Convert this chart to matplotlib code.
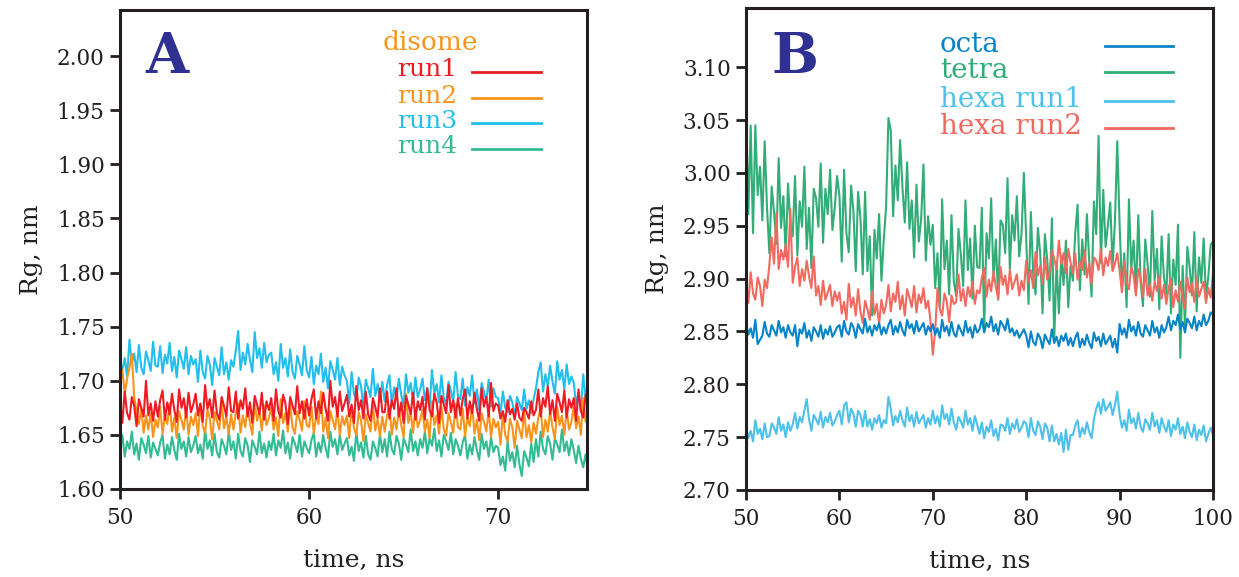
import numpy as np
import matplotlib
matplotlib.use("Agg")
import matplotlib.pyplot as plt

# ---------------- Data: Rg in pm (1 pm = 0.001 nm) ----------------
# Panel A: disome runs, time 50.000 .. 74.875 ns, step 0.125 ns
time_a_start, time_a_step = 50.0, 0.125
disome_run1_pm = [
    1682, 1661, 1690, 1670, 1664, 1685, 1677, 1658, 1683, 1675, 1667, 1700, 1668, 1679, 1663, 1681,
    1667, 1682, 1691, 1664, 1680, 1669, 1688, 1673, 1662, 1692, 1675, 1684, 1666, 1689, 1671, 1678,
    1688, 1668, 1679, 1662, 1696, 1674, 1683, 1666, 1691, 1670, 1664, 1685, 1677, 1667, 1694, 1672,
    1671, 1690, 1665, 1682, 1674, 1693, 1667, 1680, 1661, 1686, 1678, 1669, 1689, 1664, 1681, 1673,
    1684, 1663, 1692, 1672, 1666, 1687, 1679, 1660, 1685, 1677, 1669, 1695, 1670, 1681, 1665, 1683,
    1668, 1683, 1692, 1665, 1681, 1670, 1689, 1674, 1663, 1700, 1676, 1685, 1667, 1690, 1672, 1679,
    1687, 1667, 1678, 1661, 1695, 1673, 1682, 1665, 1690, 1669, 1663, 1684, 1676, 1666, 1693, 1671,
    1671, 1690, 1665, 1682, 1674, 1693, 1667, 1680, 1661, 1686, 1678, 1669, 1689, 1664, 1681, 1673,
    1685, 1664, 1693, 1673, 1667, 1688, 1680, 1661, 1686, 1678, 1670, 1696, 1671, 1682, 1666, 1684,
    1668, 1683, 1692, 1665, 1681, 1670, 1689, 1674, 1663, 1693, 1676, 1685, 1667, 1698, 1672, 1679,
    1677, 1665, 1672, 1662, 1682, 1669, 1674, 1664, 1679, 1666, 1663, 1675, 1671, 1665, 1681, 1668,
    1673, 1692, 1667, 1684, 1676, 1695, 1669, 1682, 1663, 1688, 1680, 1671, 1691, 1666, 1683, 1675,
    1684, 1663, 1692, 1672, 1666, 1687, 1679, 1660]
disome_run2_pm = [
    1695, 1710, 1688, 1702, 1712, 1725, 1685, 1672, 1660, 1675, 1652, 1668, 1655, 1670, 1648, 1664,
    1657, 1676, 1651, 1668, 1660, 1679, 1653, 1666, 1647, 1672, 1664, 1655, 1675, 1650, 1667, 1659,
    1670, 1649, 1678, 1658, 1652, 1673, 1665, 1646, 1671, 1663, 1655, 1681, 1656, 1667, 1651, 1669,
    1655, 1670, 1679, 1652, 1668, 1657, 1676, 1661, 1650, 1680, 1663, 1672, 1654, 1677, 1659, 1666,
    1675, 1655, 1666, 1649, 1683, 1661, 1670, 1653, 1678, 1657, 1651, 1672, 1664, 1654, 1681, 1659,
    1657, 1676, 1651, 1668, 1660, 1690, 1653, 1666, 1647, 1672, 1664, 1655, 1675, 1650, 1667, 1659,
    1668, 1647, 1676, 1656, 1650, 1671, 1663, 1644, 1669, 1661, 1653, 1679, 1654, 1665, 1649, 1667,
    1653, 1668, 1677, 1650, 1666, 1655, 1674, 1659, 1648, 1688, 1661, 1670, 1652, 1675, 1657, 1664,
    1673, 1653, 1664, 1647, 1681, 1659, 1668, 1651, 1676, 1655, 1649, 1670, 1662, 1652, 1679, 1657,
    1655, 1674, 1649, 1666, 1658, 1677, 1651, 1664, 1645, 1670, 1662, 1653, 1673, 1648, 1665, 1657,
    1662, 1641, 1670, 1650, 1644, 1665, 1657, 1638, 1663, 1655, 1647, 1673, 1648, 1659, 1643, 1661,
    1651, 1666, 1675, 1648, 1664, 1653, 1672, 1657, 1646, 1676, 1659, 1668, 1650, 1673, 1655, 1662,
    1676, 1656, 1667, 1650, 1684, 1662, 1671, 1654]
disome_run3_pm = [
    1702, 1710, 1721, 1704, 1738, 1716, 1725, 1708, 1733, 1712, 1706, 1727, 1719, 1709, 1736, 1714,
    1713, 1732, 1707, 1724, 1716, 1735, 1709, 1722, 1703, 1728, 1720, 1711, 1731, 1706, 1723, 1715,
    1720, 1699, 1728, 1708, 1702, 1723, 1715, 1696, 1721, 1713, 1705, 1731, 1706, 1717, 1701, 1719,
    1713, 1728, 1746, 1710, 1726, 1715, 1734, 1719, 1708, 1745, 1721, 1730, 1712, 1735, 1717, 1724,
    1726, 1706, 1717, 1700, 1734, 1712, 1721, 1704, 1729, 1708, 1702, 1723, 1715, 1705, 1732, 1710,
    1703, 1722, 1697, 1714, 1706, 1725, 1699, 1712, 1693, 1718, 1710, 1701, 1721, 1696, 1713, 1705,
    1700, 1679, 1708, 1688, 1682, 1703, 1695, 1676, 1701, 1693, 1685, 1711, 1686, 1697, 1681, 1699,
    1681, 1696, 1705, 1678, 1694, 1683, 1702, 1687, 1676, 1706, 1689, 1698, 1680, 1703, 1685, 1692,
    1702, 1682, 1693, 1676, 1710, 1688, 1697, 1680, 1705, 1684, 1678, 1699, 1691, 1681, 1708, 1686,
    1683, 1702, 1677, 1694, 1686, 1705, 1679, 1692, 1673, 1698, 1690, 1681, 1701, 1676, 1693, 1685,
    1684, 1670, 1690, 1675, 1671, 1686, 1680, 1666, 1685, 1679, 1673, 1692, 1674, 1682, 1670, 1683,
    1693, 1708, 1717, 1690, 1706, 1695, 1714, 1699, 1688, 1718, 1701, 1710, 1692, 1715, 1697, 1704,
    1698, 1678, 1689, 1672, 1706, 1684, 1693, 1676]
disome_run4_pm = [
    1635, 1650, 1630, 1644, 1637, 1653, 1632, 1642, 1627, 1647, 1641, 1633, 1649, 1629, 1643, 1637,
    1631, 1643, 1650, 1628, 1641, 1632, 1648, 1636, 1627, 1651, 1637, 1644, 1630, 1648, 1634, 1640,
    1649, 1633, 1641, 1628, 1655, 1637, 1645, 1631, 1651, 1634, 1629, 1646, 1640, 1632, 1653, 1636,
    1644, 1628, 1651, 1635, 1630, 1647, 1640, 1625, 1645, 1639, 1632, 1653, 1633, 1642, 1629, 1644,
    1636, 1651, 1631, 1645, 1638, 1654, 1633, 1643, 1628, 1648, 1642, 1634, 1650, 1630, 1644, 1638,
    1633, 1645, 1652, 1630, 1643, 1634, 1650, 1638, 1629, 1653, 1639, 1646, 1632, 1650, 1636, 1642,
    1647, 1631, 1639, 1626, 1653, 1635, 1643, 1629, 1649, 1632, 1627, 1644, 1638, 1630, 1651, 1634,
    1646, 1630, 1653, 1637, 1632, 1649, 1642, 1627, 1647, 1641, 1634, 1655, 1635, 1644, 1631, 1646,
    1638, 1653, 1633, 1647, 1640, 1656, 1635, 1645, 1630, 1650, 1644, 1636, 1652, 1632, 1646, 1640,
    1631, 1643, 1650, 1628, 1641, 1632, 1648, 1636, 1627, 1651, 1637, 1644, 1630, 1648, 1634, 1640,
    1638, 1622, 1630, 1617, 1644, 1626, 1634, 1620, 1640, 1623, 1612, 1635, 1629, 1621, 1642, 1625,
    1646, 1630, 1653, 1637, 1632, 1649, 1642, 1627, 1647, 1641, 1634, 1655, 1635, 1644, 1631, 1646,
    1636, 1624, 1640, 1628, 1620, 1632, 1618, 1614]

# Panel B: time 50.00 .. 100.00 ns, step 0.25 ns
time_b_start, time_b_step = 50.0, 0.25
octa_pm = [
    2858, 2847, 2853, 2844, 2861, 2838, 2842, 2846, 2859, 2848, 2845, 2856, 2851, 2846, 2860, 2849, 2854, 2844, 2856, 2849,
    2846, 2856, 2836, 2852, 2848, 2858, 2844, 2851, 2841, 2854, 2850, 2845, 2856, 2843, 2852, 2847, 2855, 2845, 2849, 2854,
    2856, 2845, 2860, 2850, 2847, 2858, 2854, 2844, 2857, 2852, 2848, 2862, 2849, 2855, 2846, 2856, 2851, 2858, 2847, 2854,
    2848, 2856, 2861, 2847, 2855, 2849, 2859, 2851, 2846, 2861, 2853, 2857, 2848, 2860, 2850, 2854, 2858, 2847, 2855, 2850,
    2857, 2847, 2853, 2844, 2861, 2850, 2855, 2846, 2859, 2848, 2845, 2856, 2851, 2846, 2860, 2849, 2854, 2844, 2856, 2849,
    2852, 2862, 2849, 2858, 2854, 2864, 2850, 2857, 2847, 2860, 2856, 2851, 2862, 2849, 2853, 2846, 2851, 2844, 2848, 2852,
    2846, 2835, 2850, 2840, 2837, 2848, 2844, 2834, 2847, 2842, 2838, 2852, 2839, 2845, 2836, 2846, 2841, 2848, 2837, 2844,
    2836, 2844, 2849, 2835, 2843, 2837, 2847, 2839, 2834, 2849, 2841, 2845, 2836, 2848, 2838, 2842, 2846, 2835, 2843, 2830,
    2857, 2847, 2853, 2844, 2861, 2850, 2855, 2846, 2859, 2848, 2845, 2856, 2851, 2846, 2860, 2849, 2854, 2844, 2856, 2849,
    2854, 2864, 2851, 2860, 2856, 2866, 2852, 2859, 2849, 2862, 2858, 2853, 2864, 2851, 2860, 2855, 2866, 2856, 2860, 2868,
    2866]
tetra_pm = [
    3060, 2961, 3045, 2943, 3045, 2979, 3006, 2955, 3030, 2967, 2924, 2987, 2963, 2933, 3014, 2948, 2978, 2921, 2990, 2951,
    2940, 2997, 2922, 2973, 2949, 3006, 2928, 2967, 2910, 2985, 2976, 2949, 3009, 2934, 2985, 2961, 3003, 2946, 2967, 2997,
    2979, 2916, 3003, 2943, 2925, 2988, 2964, 2907, 2982, 2958, 2904, 2982, 2907, 2940, 2865, 2946, 2919, 2961, 2898, 2937,
    2968, 3052, 3040, 2959, 3007, 2974, 3031, 2986, 2953, 3010, 2947, 2974, 2920, 2989, 2935, 2956, 3008, 2917, 2959, 2932,
    2951, 2891, 2924, 2873, 2975, 2909, 2936, 2885, 2960, 2897, 2884, 2947, 2923, 2893, 2974, 2908, 2938, 2881, 2950, 2911,
    2910, 2967, 2852, 2943, 2919, 2976, 2898, 2937, 2880, 2955, 2951, 2924, 2995, 2909, 2960, 2936, 2978, 2921, 2942, 3000,
    2939, 2876, 2963, 2903, 2885, 2948, 2924, 2867, 2942, 2918, 2879, 2957, 2842, 2915, 2867, 2921, 2894, 2936, 2873, 2912,
    2898, 2943, 2970, 2889, 2937, 2904, 2961, 2916, 2883, 2973, 2942, 3035, 2915, 2984, 2930, 2951, 2972, 2912, 2954, 3030,
    2951, 2891, 2924, 2873, 2975, 2909, 2936, 2885, 2960, 2897, 2874, 2937, 2913, 2883, 2964, 2898, 2928, 2871, 2940, 2901,
    2885, 2942, 2867, 2918, 2894, 2951, 2825, 2912, 2855, 2930, 2911, 2884, 2944, 2869, 2920, 2896, 2938, 2881, 2902, 2932,
    2935]
hexa_run1_pm = [
    2761, 2749, 2756, 2746, 2766, 2753, 2758, 2748, 2763, 2750, 2751, 2763, 2759, 2753, 2769, 2756, 2762, 2750, 2764, 2756,
    2762, 2773, 2758, 2769, 2764, 2775, 2786, 2767, 2756, 2771, 2767, 2762, 2774, 2759, 2769, 2764, 2773, 2761, 2765, 2771,
    2775, 2762, 2780, 2783, 2764, 2777, 2772, 2760, 2775, 2771, 2760, 2775, 2760, 2767, 2757, 2768, 2763, 2771, 2759, 2766,
    2763, 2788, 2777, 2761, 2770, 2764, 2775, 2766, 2760, 2778, 2765, 2771, 2760, 2774, 2763, 2767, 2771, 2759, 2768, 2762,
    2775, 2763, 2770, 2760, 2780, 2767, 2772, 2762, 2777, 2764, 2757, 2769, 2765, 2759, 2775, 2762, 2768, 2756, 2770, 2762,
    2753, 2764, 2749, 2760, 2755, 2766, 2751, 2758, 2747, 2762, 2761, 2756, 2768, 2753, 2763, 2758, 2767, 2755, 2759, 2765,
    2763, 2750, 2768, 2756, 2752, 2765, 2760, 2748, 2763, 2759, 2746, 2761, 2746, 2753, 2743, 2754, 2736, 2757, 2738, 2752,
    2752, 2761, 2766, 2750, 2759, 2753, 2764, 2755, 2749, 2767, 2777, 2783, 2772, 2786, 2775, 2779, 2783, 2771, 2780, 2793,
    2771, 2759, 2766, 2756, 2776, 2763, 2768, 2758, 2773, 2760, 2755, 2767, 2763, 2757, 2773, 2760, 2766, 2754, 2768, 2760,
    2755, 2766, 2751, 2762, 2757, 2768, 2753, 2760, 2749, 2764, 2755, 2750, 2762, 2747, 2757, 2752, 2761, 2746, 2753, 2759,
    2752]
hexa_run2_pm = [
    2898, 2877, 2906, 2886, 2880, 2901, 2893, 2874, 2899, 2891, 2913, 2939, 2914, 2962, 2909, 2927, 2918, 2932, 2911, 2966,
    2896, 2911, 2920, 2893, 2909, 2898, 2917, 2902, 2891, 2921, 2884, 2893, 2875, 2898, 2880, 2887, 2894, 2874, 2888, 2879,
    2887, 2867, 2878, 2861, 2895, 2873, 2882, 2865, 2890, 2869, 2858, 2879, 2871, 2861, 2888, 2866, 2876, 2857, 2880, 2867,
    2875, 2894, 2869, 2886, 2878, 2897, 2871, 2884, 2865, 2890, 2882, 2873, 2893, 2868, 2885, 2877, 2891, 2872, 2879, 2860,
    2828, 2850, 2891, 2871, 2865, 2886, 2878, 2859, 2884, 2876, 2878, 2904, 2879, 2890, 2874, 2892, 2883, 2897, 2876, 2889,
    2886, 2901, 2910, 2883, 2899, 2888, 2907, 2892, 2881, 2911, 2894, 2903, 2885, 2908, 2890, 2897, 2904, 2884, 2898, 2889,
    2917, 2897, 2908, 2891, 2925, 2903, 2912, 2895, 2920, 2899, 2906, 2927, 2919, 2909, 2936, 2914, 2924, 2905, 2928, 2915,
    2905, 2924, 2899, 2916, 2908, 2927, 2901, 2914, 2895, 2920, 2917, 2908, 2928, 2903, 2920, 2912, 2926, 2907, 2914, 2924,
    2908, 2887, 2916, 2896, 2890, 2911, 2903, 2884, 2909, 2901, 2883, 2909, 2884, 2895, 2879, 2897, 2888, 2902, 2881, 2894,
    2876, 2891, 2900, 2873, 2889, 2878, 2897, 2882, 2871, 2901, 2887, 2896, 2878, 2901, 2883, 2890, 2897, 2877, 2891, 2882,
    2905]

labels_a = ["run1", "run2", "run3", "run4"]
labels_b = ["octa", "tetra", "hexa run1", "hexa run2"]
yticks_a = [1.60, 1.65, 1.70, 1.75, 1.80, 1.85, 1.90, 1.95, 2.00]
yticks_b = [2.70, 2.75, 2.80, 2.85, 2.90, 2.95, 3.00, 3.05, 3.10]
xticks_a = [50, 60, 70]
xticks_b = [50, 60, 70, 80, 90, 100]

colors_a = ["#ED1C24", "#F7941D", "#22BFEC", "#33BC94"]
colors_b = ["#0784C7", "#32AD77", "#4EC1E8", "#F16A60"]
title_a_color = "#F7941D"
panel_color = "#2E3192"
ink = "#231F20"

plt.rcParams["font.family"] = ["DejaVu Serif"]

fig = plt.figure(figsize=(12.39, 5.77), dpi=100)
axA = fig.add_axes([120 / 1239, 1 - 489 / 577, 467 / 1239, 479 / 577])
axB = fig.add_axes([746 / 1239, 1 - 490 / 577, 467 / 1239, 482 / 577])

series_a = [disome_run1_pm, disome_run2_pm, disome_run3_pm, disome_run4_pm]
for idx in [2, 3, 1, 0]:
    vals = np.asarray(series_a[idx]) / 1000.0
    t = time_a_start + time_a_step * np.arange(len(vals))
    axA.plot(t, vals, color=colors_a[idx], lw=1.5)

series_b = [octa_pm, tetra_pm, hexa_run1_pm, hexa_run2_pm]
for idx in [1, 3, 0, 2]:
    vals = np.asarray(series_b[idx]) / 1000.0
    t = time_b_start + time_b_step * np.arange(len(vals))
    axB.plot(t, vals, color=colors_b[idx], lw=1.5)

axA.set_xlim(50, 74.7)
axA.set_ylim(1.60, 2.0425)
axB.set_xlim(50, 100)
axB.set_ylim(2.70, 3.156)

for ax, yt, xt in [(axA, yticks_a, xticks_a), (axB, yticks_b, xticks_b)]:
    ax.set_yticks(yt)
    ax.set_yticklabels([f"{v:.2f}" for v in yt])
    ax.set_xticks(xt)
    ax.set_xticklabels([str(v) for v in xt])
    for s in ax.spines.values():
        s.set_linewidth(2.2)
        s.set_color(ink)
    ax.tick_params(axis="both", direction="out", length=7, width=2,
                   color=ink, labelsize=15.5, labelcolor=ink, pad=4)
    ax.tick_params(axis="x", pad=6)
    ax.set_ylabel("Rg, nm", fontsize=18, color=ink, labelpad=10)
    ax.set_xlabel("time, ns", fontsize=18, color=ink, labelpad=14)

# Panel letters
axA.text(0.10, 0.90, "A", transform=axA.transAxes, fontsize=40, fontweight="bold",
         color=panel_color, ha="center", va="center")
axB.text(0.105, 0.898, "B", transform=axB.transAxes, fontsize=40, fontweight="bold",
         color=panel_color, ha="center", va="center")

# Legend A
axA.text(0.664, 0.933, "disome", transform=axA.transAxes, fontsize=19,
         color=title_a_color, ha="center", va="center")
ys_a = [0.875, 0.820, 0.768, 0.714]
for lab, c, yy in zip(labels_a, colors_a, ys_a):
    axA.text(0.722, yy, lab, transform=axA.transAxes, fontsize=18, color=c,
             ha="right", va="center")
    axA.plot([0.754, 0.901], [yy - 0.004, yy - 0.004], transform=axA.transAxes,
             color=c, lw=2)

# Legend B
ys_b = [0.925, 0.871, 0.811, 0.755]
for lab, c, yy in zip(labels_b, colors_b, ys_b):
    axB.text(0.415, yy, lab, transform=axB.transAxes, fontsize=20, color=c,
             ha="left", va="center")
    axB.plot([0.769, 0.914], [yy - 0.004, yy - 0.004], transform=axB.transAxes,
             color=c, lw=2)

fig.savefig("out.png", dpi=100)
